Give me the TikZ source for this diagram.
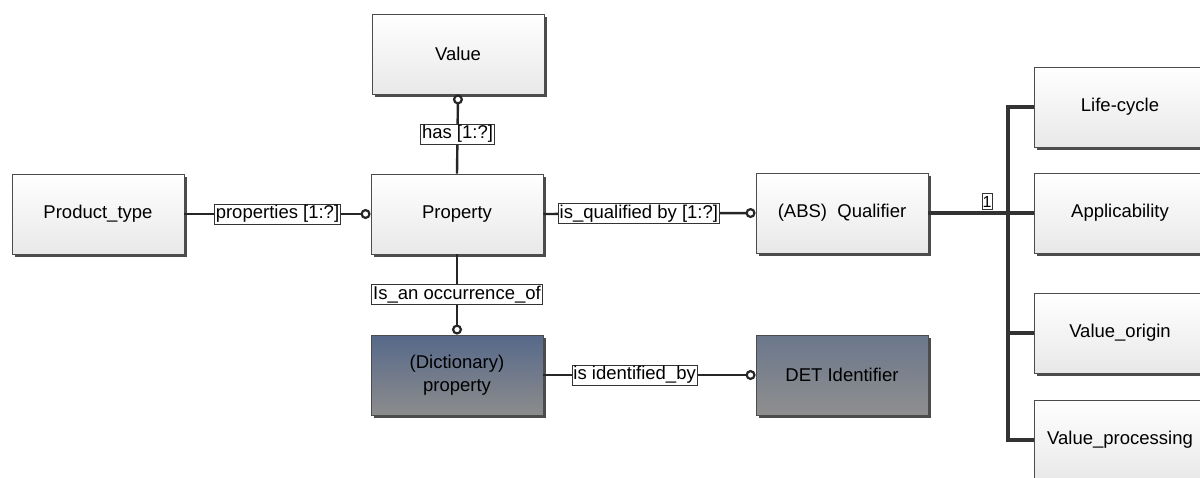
\documentclass[tikz,border=0pt]{standalone}
\usepackage{fontspec}
\setmainfont{Liberation Sans}
\usetikzlibrary{arrows.meta,shadows}
\definecolor{dictTop}{HTML}{56698A}
\definecolor{dictBot}{HTML}{8C8C8C}
\definecolor{detTop}{HTML}{6B778C}
\definecolor{detBot}{HTML}{8F8F8F}
\begin{document}
\begin{tikzpicture}[x=1pt,y=-1pt,
  every node/.style={font=\fontsize{18.5}{23}\selectfont},
  entity/.style={draw=black!70, line width=0.9pt, minimum width=172pt, minimum height=80pt,
    align=center, top color=white, bottom color=black!9,
    drop shadow={shadow xshift=3pt,shadow yshift=-3pt,fill=black!70,opacity=1}},
  dictent/.style={entity, top color=dictTop, bottom color=dictBot},
  detent/.style={entity, top color=detTop, bottom color=detBot},
  rel/.style={draw=black!85, line width=2.4pt},
  bus/.style={draw=black!80, line width=3.4pt},
  lbl/.style={draw=black!80, line width=0.6pt, fill=white, inner sep=1.5pt,
    font=\fontsize{18.5}{21}\selectfont},
  opt/.style={-{Circle[open,length=10pt,line width=2.2pt,fill=white]}}
]
\useasboundingbox (0,0) rectangle (1200,477);
\clip (0,0) rectangle (1200,477);
% entities
\node[entity] (value) at (458,54) {Value};
\node[entity] (property) at (457,214) {Property};
\node[entity] (product) at (98,214) {Product\_type};
\node[entity] (qualifier) at (842,213) {(ABS)~ Qualifier};
\node[dictent] (dictprop) at (457,375) {(Dictionary)\\property};
\node[detent] (detid) at (842,375) {DET Identifier};
\node[entity] (lifecycle) at (1120,107) {Life-cycle};
\node[entity] (applic) at (1120,213) {Applicability};
\node[entity] (valorigin) at (1120,333) {Value\_origin};
\node[entity] (valproc) at (1120,440) {Value\_processing};
% relations
\draw[rel,opt] (property.north) -- node[lbl] {has [1:?]} (value.south);
\draw[rel,opt] (product.east) -- node[lbl] {properties [1:?]} (property.west);
\draw[rel,opt] (property.east) -- node[lbl,pos=0.45] {is\_qualified by [1:?]} (qualifier.west);
\draw[rel,opt] (property.south) -- node[lbl] {Is\_an occurrence\_of} (dictprop.north);
\draw[rel,opt] (dictprop.east) -- node[lbl,pos=0.43] {is identified\_by} (detid.west);
% qualifier subtypes
\coordinate (busx) at (1008,0);
\draw[bus] (qualifier.east) -- (applic.west);
\draw[bus] (lifecycle.west) -- (lifecycle.west -| busx) -- (valproc.west -| busx) -- (valproc.west);
\draw[bus] (valorigin.west) -- (valorigin.west -| busx);
\node[lbl, anchor=south, inner sep=0.5pt, minimum height=16pt, minimum width=10pt,
  font=\fontsize{16}{18}\selectfont] (one) at (987,210) {1};
\end{tikzpicture}
\end{document}
